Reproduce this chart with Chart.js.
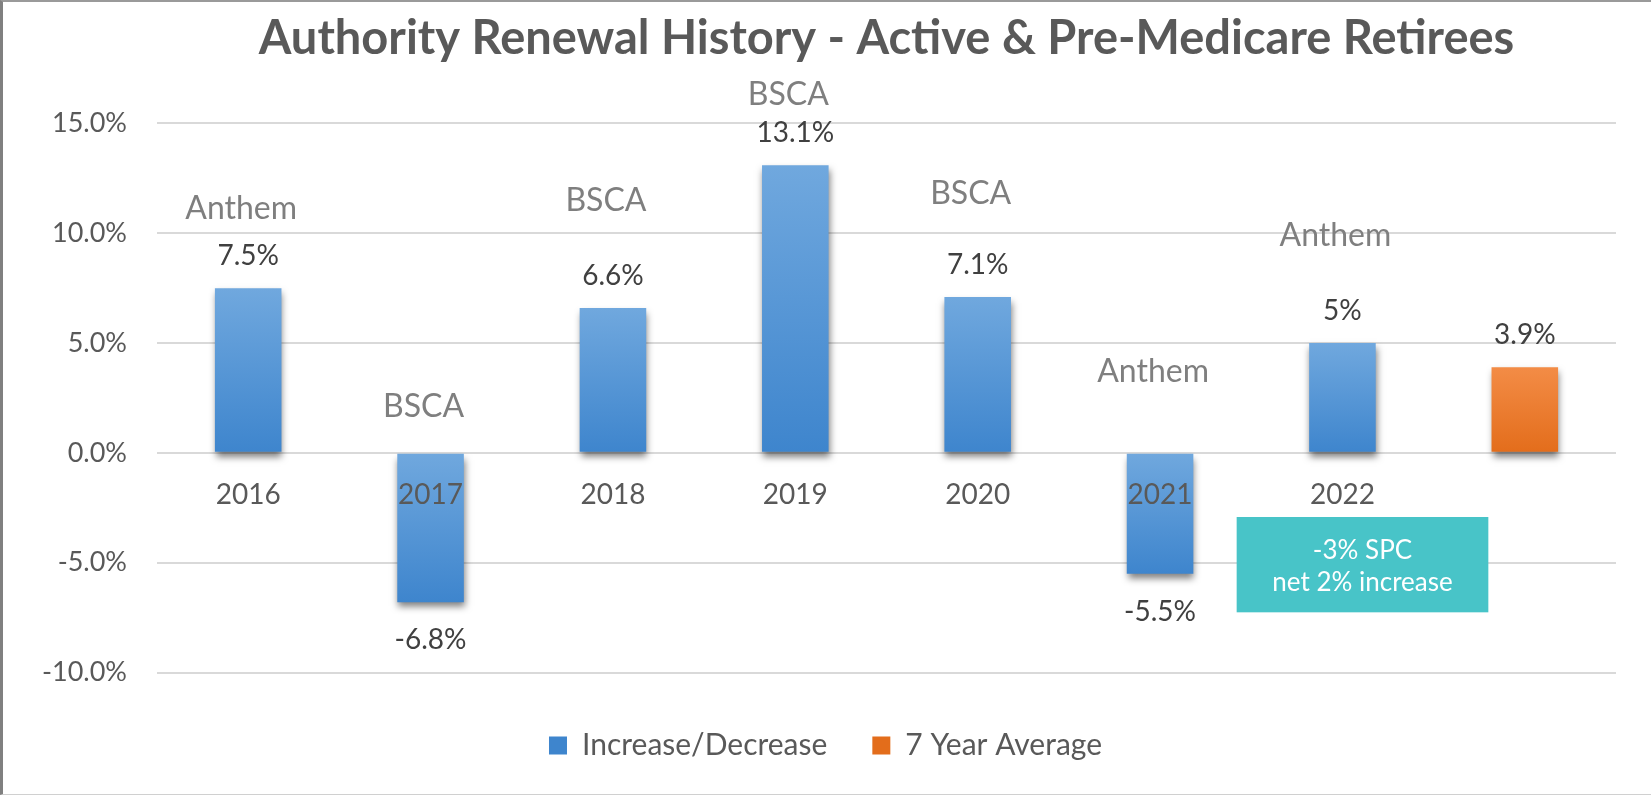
<!DOCTYPE html>
<html>
<head>
<meta charset="utf-8">
<script src="https://cdn.jsdelivr.net/npm/chart.js@4.4.1/dist/chart.umd.min.js"></script>
<style>
  body { margin: 0; background: #fff; }
  #wrap { position: relative; width: 1651px; height: 795px; }
  #frame { position: absolute; left: 0; top: 0; right: 0; bottom: 0; pointer-events: none;
           border-left: 3px solid #808080; border-top: 2px solid #9a9a9a; border-bottom: 1px solid #d0d0d0; }
</style>
</head>
<body>
<div id="wrap">
  <canvas id="myChart" width="1651" height="795"></canvas>
  <div id="frame"></div>
</div>
<script>
// chart data
const years = ['2016', '2017', '2018', '2019', '2020', '2021', '2022', ''];
const changes = [7.5, -6.8, 6.6, 13.1, 7.1, -5.5, 5.0, null];
const average = [null, null, null, null, null, null, null, 3.9];
const valueLabels = ['7.5%', '-6.8%', '6.6%', '13.1%', '7.1%', '-5.5%', '5%', '3.9%'];
const carriers = ['Anthem', 'BSCA', 'BSCA', 'BSCA', 'BSCA', 'Anthem', 'Anthem', ''];
const seriesNames = ['Increase/Decrease', '7 Year Average'];
const noteLines = ['-3% SPC', 'net 2% increase'];

// where the carrier names sit, in % on the y axis
const carrierLabelAt = [11.1, 2.1, 11.5, 16.3, 11.8, 3.7, 9.9, null];
// callout box corners: category index range and % range
const noteBox = { x0: 5.42, x1: 6.80, y0: -2.92, y1: -7.26 };

const FONT = 'Lato, "Open Sans", sans-serif';

function barFill(top, bottom) {
    return c => {
        if (c.type !== 'data' || c.raw == null || !c.chart.scales.y) return bottom;
        const y = c.chart.scales.y;
        const p0 = y.getPixelForValue(Math.max(c.raw, 0));
        const p1 = y.getPixelForValue(Math.min(c.raw, 0));
        if (!isFinite(p0) || !isFinite(p1)) return bottom;
        const g = c.chart.ctx.createLinearGradient(0, p0, 0, p1);
        g.addColorStop(0, top);
        g.addColorStop(1, bottom);
        return g;
    };
}

const barShadow = {
    id: 'barShadow',
    beforeDatasetsDraw(chart) {
        const ctx = chart.ctx;
        ctx.save();
        ctx.shadowColor = 'rgba(0,0,0,0.5)';
        ctx.shadowBlur = 7;
        ctx.shadowOffsetX = 1;
        ctx.shadowOffsetY = 5;
    },
    afterDatasetsDraw(chart) {
        chart.ctx.restore();
    }
};

const barLabels = {
    id: 'barLabels',
    afterDraw(chart) {
        const ctx = chart.ctx;
        const y = chart.scales.y, x = chart.scales.x;
        ctx.save();
        ctx.textAlign = 'center';
        ctx.textBaseline = 'middle';

        // value labels
        ctx.font = '28px ' + FONT;
        ctx.fillStyle = '#404040';
        chart.data.datasets.forEach((ds, di) => {
            chart.getDatasetMeta(di).data.forEach((el, i) => {
                const v = ds.data[i];
                if (v == null) return;
                ctx.fillText(valueLabels[i], el.x, v >= 0 ? el.y - 32 : el.y + 38);
            });
        });

        // carrier names
        ctx.font = '32px ' + FONT;
        ctx.fillStyle = '#7f7f7f';
        carriers.forEach((name, i) => {
            if (!name) return;
            ctx.fillText(name, x.getPixelForValue(i) - 7, y.getPixelForValue(carrierLabelAt[i]));
        });

        // callout box
        const bx0 = x.getPixelForValue(noteBox.x0), bx1 = x.getPixelForValue(noteBox.x1);
        const by0 = y.getPixelForValue(noteBox.y0), by1 = y.getPixelForValue(noteBox.y1);
        ctx.fillStyle = '#48c4c8';
        ctx.fillRect(bx0, by0, bx1 - bx0, by1 - by0);
        ctx.fillStyle = '#ffffff';
        ctx.font = '26px ' + FONT;
        const cx = (bx0 + bx1) / 2, cy = (by0 + by1) / 2;
        ctx.fillText(noteLines[0], cx, cy - 14);
        ctx.fillText(noteLines[1], cx, cy + 18);
        ctx.restore();
    }
};

const ctx = document.getElementById('myChart').getContext('2d');
const myChart = new Chart(ctx, {
    type: 'bar',
    data: {
        labels: years,
        datasets: [{
            label: seriesNames[0],
            data: changes,
            backgroundColor: barFill('#70a8de', '#3e85cd'),
            grouped: false,
            categoryPercentage: 1,
            barPercentage: 0.365
        }, {
            label: seriesNames[1],
            data: average,
            backgroundColor: barFill('#f38c46', '#e36d1b'),
            grouped: false,
            categoryPercentage: 1,
            barPercentage: 0.365
        }]
    },
    options: {
        responsive: false,
        animation: false,
        layout: { padding: { top: 11, right: 0, bottom: 24.5, left: 0 } },
        scales: {
            x: {
                position: { y: 0 },
                grid: { display: false },
                border: { display: false },
                ticks: { z: 1, color: '#595959', font: { family: FONT, size: 28 }, padding: 17 }
            },
            xGap: {
                type: 'category',
                position: 'bottom',
                grid: { display: false },
                border: { display: false },
                ticks: { display: false },
                afterFit(s) { s.height = 13; }
            },
            y: {
                min: -10,
                max: 15,
                afterFit(s) { s.width = 157; },
                grid: { color: '#d9d9d9', lineWidth: 2, drawTicks: false },
                border: { display: false },
                ticks: {
                    stepSize: 5,
                    padding: 30,
                    color: '#595959',
                    font: { family: FONT, size: 27 },
                    callback: v => v.toFixed(1) + '%'
                }
            },
            yGap: {
                type: 'linear',
                position: 'right',
                grid: { display: false },
                border: { display: false },
                ticks: { display: false },
                afterFit(s) { s.width = 35; }
            }
        },
        plugins: {
            title: {
                display: true,
                text: 'Authority Renewal History - Active & Pre-Medicare Retirees',
                fullSize: false,
                color: '#595959',
                font: { family: FONT, size: 47, weight: 'bold', lineHeight: 1.2 },
                padding: { top: 0, bottom: 56 }
            },
            legend: {
                position: 'bottom',
                labels: {
                    color: '#595959',
                    font: { family: FONT, size: 30 },
                    boxWidth: 18,
                    boxHeight: 18,
                    padding: 45
                }
            },
            tooltip: { enabled: false }
        }
    },
    plugins: [barShadow, barLabels]
});
</script>
</body>
</html>
